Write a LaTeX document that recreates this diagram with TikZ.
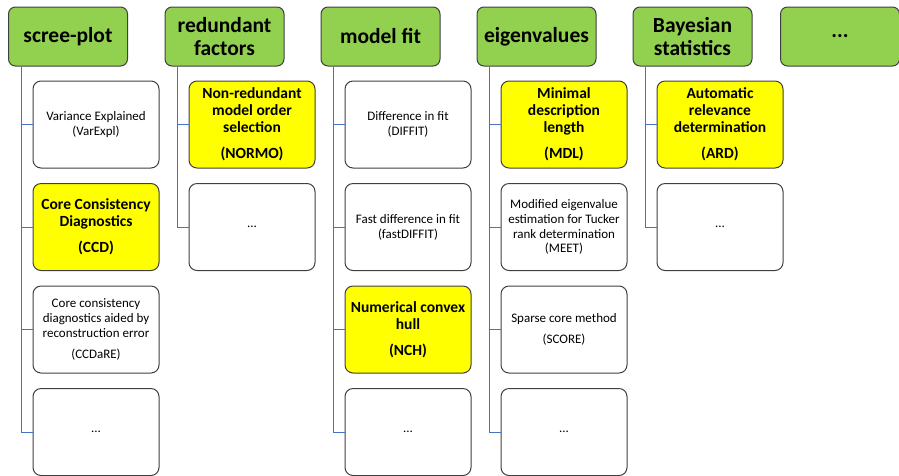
\documentclass[tikz,border=0pt]{standalone}
\usepackage{fontspec}
\setmainfont{Carlito}
\definecolor{headgreen}{HTML}{92D050}
\definecolor{keyyellow}{HTML}{FFFF00}
\definecolor{linkblue}{HTML}{4472C4}
\definecolor{rimgray}{HTML}{404040}
\tikzset{
  head/.style={draw=rimgray, fill=headgreen, rounded corners=7pt, line width=1pt,
               minimum width=119pt, minimum height=59pt, inner sep=0pt, align=center,
               font=\fontsize{21.5}{23}\selectfont\bfseries},
  cell/.style={draw=rimgray, fill=white, rounded corners=8pt, line width=1pt,
               minimum width=126pt, minimum height=87pt, inner sep=0pt, align=center,
               font=\fontsize{13}{14.8}\selectfont},
  keycell/.style={cell, fill=keyyellow, font=\fontsize{15.5}{17}\selectfont\bfseries},
  link/.style={draw=linkblue, line width=1pt},
}

\begin{document}
\begin{tikzpicture}[x=1pt, y=-1pt]
    \useasboundingbox (0,0) rectangle (899,475);

    % scree-plot
    \node[head] (h1) at (68, 36.5) {scree-plot};
    \node[cell] (c11) at (96, 124.5) {Variance Explained\\(VarExpl)};
    \node[keycell] (c12) at (96, 227) {Core Consistency\\Diagnostics\\[9pt](CCD)};
    \node[cell] (c13) at (96, 329.5) {Core consistency\\diagnostics aided by\\reconstruction error\\[6pt](CCDaRE)};
    \node[cell] (c14) at (96, 432) {...};

    % redundant factors
    \node[head] (h2) at (224.5, 36.5) {redundant\\factors};
    \node[keycell] (c21) at (252, 124.5) {Non-redundant\\model order\\selection\\[9pt](NORMO)};
    \node[cell] (c22) at (252, 227) {...};

    % model fit
    \node[head] (h3) at (380.5, 36.5) {model fit};
    \node[cell] (c31) at (408, 124.5) {Difference in fit\\(DIFFIT)};
    \node[cell] (c32) at (408, 227) {Fast difference in fit\\(fastDIFFIT)};
    \node[keycell] (c33) at (408, 329.5) {Numerical convex\\hull\\[9pt](NCH)};
    \node[cell] (c34) at (408, 432) {...};

    % eigenvalues
    \node[head] (h4) at (536.5, 36.5) {eigenvalues};
    \node[keycell] (c41) at (564, 124.5) {Minimal\\description\\length\\[9pt](MDL)};
    \node[cell] (c42) at (564, 227) {Modified eigenvalue\\estimation for Tucker\\rank determination\\(MEET)};
    \node[cell] (c43) at (564, 329.5) {Sparse core method\\[6pt](SCORE)};
    \node[cell] (c44) at (564, 432) {...};

    % Bayesian statistics
    \node[head] (h5) at (692.5, 36.5) {Bayesian\\statistics};
    \node[keycell] (c51) at (720, 124.5) {Automatic\\relevance\\determination\\[9pt](ARD)};
    \node[cell] (c52) at (720, 227) {...};

    % more groups
    \node[head] (h6) at (840, 36.5) {...};

    % tree lines
    \coordinate (t1) at ([xshift=13pt]h1.south west);
    \coordinate (t2) at ([xshift=13pt]h2.south west);
    \coordinate (t3) at ([xshift=13pt]h3.south west);
    \coordinate (t4) at ([xshift=13pt]h4.south west);
    \coordinate (t5) at ([xshift=13pt]h5.south west);
    \foreach \c in {c11, c12, c13, c14} \draw[link] (t1) |- (\c.west);
    \foreach \c in {c21, c22} \draw[link] (t2) |- (\c.west);
    \foreach \c in {c31, c32, c33, c34} \draw[link] (t3) |- (\c.west);
    \foreach \c in {c41, c42, c43, c44} \draw[link] (t4) |- (\c.west);
    \foreach \c in {c51, c52} \draw[link] (t5) |- (\c.west);
  \end{tikzpicture}
\end{document}
